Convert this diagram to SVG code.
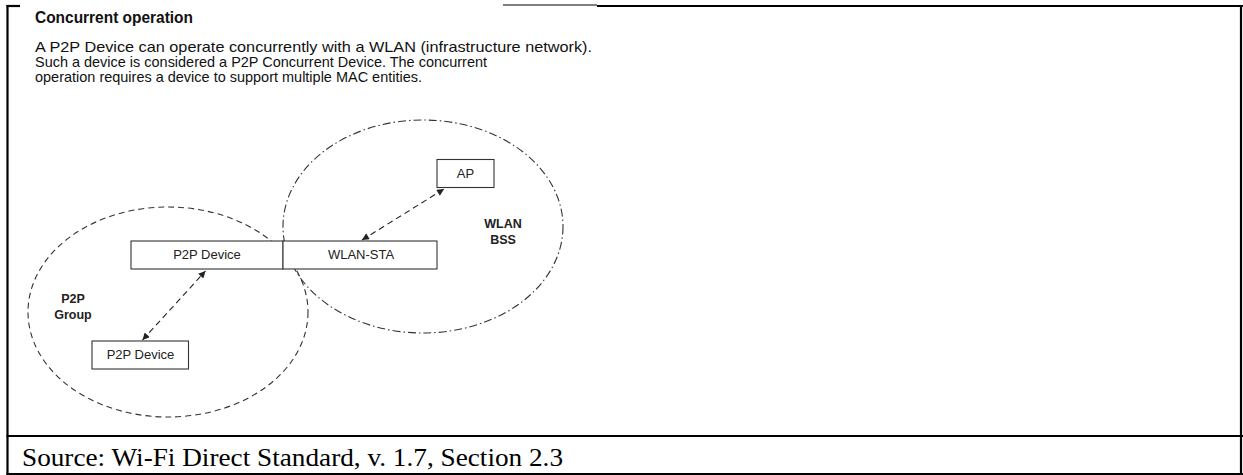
<svg xmlns="http://www.w3.org/2000/svg" width="1243" height="475" viewBox="0 0 1243 475">
<style>
.frame{stroke:#000;stroke-width:2.2;fill:none}
.box{fill:#fff;stroke:#333;stroke-width:1.1}
.lbl{font-family:"Liberation Sans",Arial,sans-serif;font-size:13px;fill:#222;text-anchor:middle}
.bold{font-family:"Liberation Sans",Arial,sans-serif;font-size:12.5px;font-weight:bold;fill:#222;text-anchor:middle}
.para{font-family:"Liberation Sans",Arial,sans-serif;font-size:14.5px;fill:#111}
.conn{stroke:#222;stroke-width:1.1;fill:none;stroke-dasharray:6 4}
</style>
<defs>
<marker id="ah" viewBox="0 0 10 10" refX="10" refY="5" markerWidth="9" markerHeight="7" markerUnits="userSpaceOnUse" orient="auto-start-reverse">
<path d="M0,0 L10,5 L0,10 z" fill="#222"/>
</marker>
</defs>
<rect width="1243" height="475" fill="#fff"/>
<g id="frame">
<line class="frame" x1="7.5" y1="5" x2="7.5" y2="475"/>
<line class="frame" x1="6.5" y1="6" x2="20" y2="6"/>
<line x1="503" y1="5" x2="597" y2="5" stroke="#000" stroke-width="1"/>
<line class="frame" x1="597" y1="6" x2="1243" y2="6"/>
<line class="frame" x1="1241" y1="5" x2="1241" y2="475"/>
<line class="frame" x1="6.5" y1="436" x2="1243" y2="436"/>
<line class="frame" x1="6.5" y1="474" x2="1243" y2="474"/>
</g>
<g id="header">
<text x="35" y="23" font-family="Liberation Sans,Arial,sans-serif" font-size="16" font-weight="bold" fill="#111" textLength="158" lengthAdjust="spacingAndGlyphs">Concurrent operation</text>
<text class="para" x="35" y="52" textLength="557" lengthAdjust="spacingAndGlyphs">A P2P Device can operate concurrently with a WLAN (infrastructure network).</text>
<text class="para" x="35" y="66.8" textLength="452" lengthAdjust="spacingAndGlyphs">Such a device is considered a P2P Concurrent Device. The concurrent</text>
<text class="para" x="35" y="81.5" textLength="387" lengthAdjust="spacingAndGlyphs">operation requires a device to support multiple MAC entities.</text>
</g>
<g id="p2p-group-area">
<ellipse cx="168" cy="312" rx="140" ry="105" fill="none" stroke="#333" stroke-width="1.1" stroke-dasharray="6 4"/>
<text class="bold" x="73" y="303">P2P</text>
<text class="bold" x="73" y="319">Group</text>
</g>
<g id="wlan-bss-area">
<ellipse cx="423" cy="226.5" rx="140" ry="106.5" fill="none" stroke="#333" stroke-width="1.1" stroke-dasharray="8 3 1.5 3"/>
<text class="bold" x="503" y="227.5">WLAN</text>
<text class="bold" x="503" y="243.5">BSS</text>
</g>
<g id="p2p-device-concurrent">
<rect class="box" x="131" y="241" width="152" height="28"/>
<text class="lbl" x="207" y="259">P2P Device</text>
</g>
<g id="wlan-sta">
<rect class="box" x="283" y="241" width="154" height="28"/>
<text class="lbl" x="361" y="259">WLAN-STA</text>
</g>
<g id="ap">
<rect class="box" x="437" y="159.5" width="57" height="28"/>
<text class="lbl" x="465.5" y="178.3">AP</text>
</g>
<g id="p2p-device-client">
<rect class="box" x="92" y="341" width="96.5" height="28"/>
<text class="lbl" x="140.5" y="359.3">P2P Device</text>
</g>
<g id="connectors">
<line class="conn" x1="142.5" y1="340" x2="205.5" y2="271" marker-start="url(#ah)" marker-end="url(#ah)"/>
<line class="conn" x1="362" y1="240" x2="444" y2="189" marker-start="url(#ah)" marker-end="url(#ah)"/>
</g>
<g id="caption">
<text x="22" y="466" font-family="Liberation Serif,Times New Roman,serif" font-size="26" fill="#000" textLength="541" lengthAdjust="spacingAndGlyphs">Source: Wi-Fi Direct Standard, v. 1.7, Section 2.3</text>
</g>
</svg>
